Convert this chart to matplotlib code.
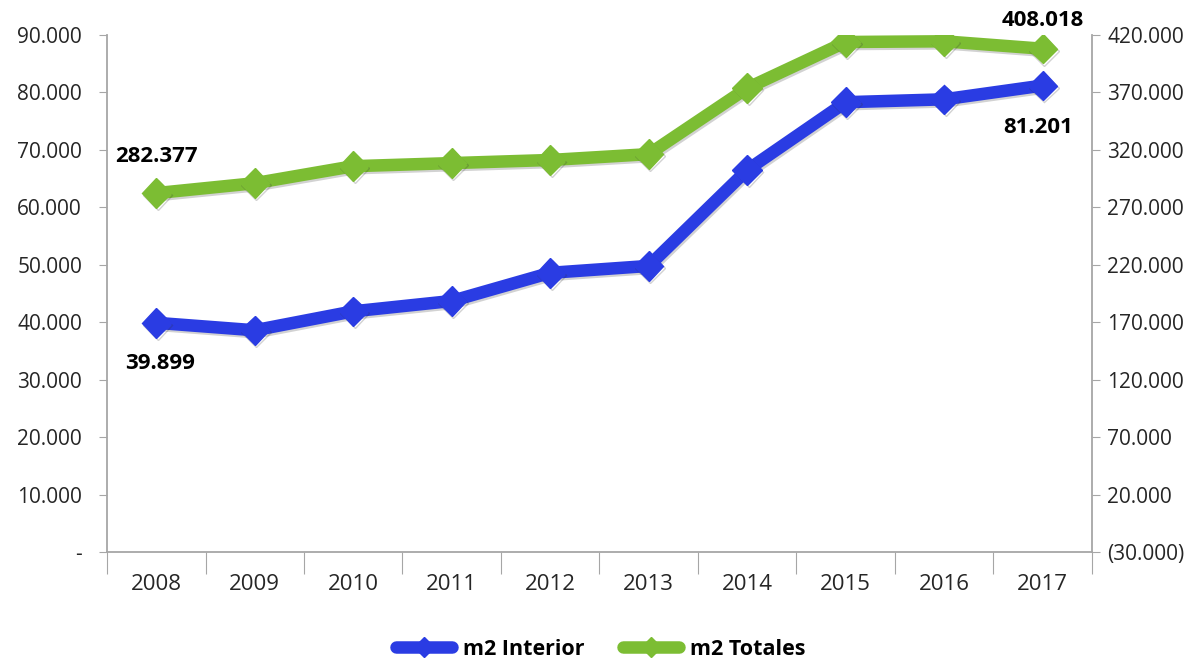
import matplotlib.pyplot as plt
import matplotlib.patheffects as pe
from matplotlib.lines import Line2D
from matplotlib.ticker import FixedLocator, FuncFormatter

years = ['2008', '2009', '2010', '2011', '2012', '2013', '2014', '2015', '2016', '2017']
m2_interior = [39899, 38600, 41900, 43700, 48600, 49800, 66500, 78300, 78800, 81201]
m2_totales = [282377, 291000, 305800, 308500, 311200, 316300, 373800, 413900, 414500, 408018]

left_ticks = list(range(0, 90001, 10000))
right_ticks = list(range(-30000, 420001, 50000))

blue = '#2A3CE3'
green = '#7CBD33'
tick_color = '#262626'
spine_color = '#A6A6A6'

plt.rcParams['font.family'] = ['Open Sans', 'DejaVu Sans']


def fmt_left(v, pos):
    if v == 0:
        return '-'
    return '{:,.0f}'.format(v).replace(',', '.')


def fmt_right(v, pos):
    s = '{:,.0f}'.format(abs(v)).replace(',', '.')
    return '(' + s + ')' if v < 0 else s


fig = plt.figure(figsize=(12.01, 6.6), dpi=100)
ax = fig.add_axes([0.0891, 0.1636, 0.8201, 0.7834])
ax2 = ax.twinx()

x = list(range(len(years)))
shadow = [pe.SimpleLineShadow(offset=(1, -1.5), alpha=0.22, shadow_color='#333333'), pe.Normal()]

ax.plot(x, m2_interior, color=blue, lw=9, marker='D', ms=15, path_effects=shadow,
        solid_joinstyle='miter', zorder=3)
ax2.plot(x, m2_totales, color=green, lw=9, marker='D', ms=15, path_effects=shadow,
         solid_joinstyle='miter', zorder=3)

ax.set_xlim(-0.5, len(years) - 0.5)
ax.set_ylim(0, 90000)
ax2.set_ylim(-30000, 420000)
ax.yaxis.set_major_locator(FixedLocator(left_ticks))
ax2.yaxis.set_major_locator(FixedLocator(right_ticks))
ax.yaxis.set_major_formatter(FuncFormatter(fmt_left))
ax2.yaxis.set_major_formatter(FuncFormatter(fmt_right))

ax.set_xticks([i - 0.5 for i in range(len(years) + 1)])
ax.set_xticklabels([])
ax.set_xticks(x, minor=True)
ax.set_xticklabels(years, minor=True)
ax.tick_params(axis='x', which='major', length=16, direction='out', color=spine_color)
ax.tick_params(axis='x', which='minor', length=0, pad=16, labelsize=16, labelcolor=tick_color)
ax.tick_params(axis='y', length=6, color=spine_color, labelsize=15, labelcolor=tick_color, pad=12)
ax2.tick_params(axis='y', length=6, color=spine_color, labelsize=15, labelcolor=tick_color, pad=5)

for a in (ax, ax2):
    a.spines['top'].set_visible(False)
    for s in ('left', 'right', 'bottom'):
        a.spines[s].set_color(spine_color)
        a.spines[s].set_linewidth(1.3)
ax.spines['right'].set_visible(False)
ax2.spines['left'].set_visible(False)
ax2.spines['bottom'].set_visible(False)

lab = dict(fontsize=16, fontweight='bold', color='black', ha='center', va='center',
           textcoords='offset points')
ax.annotate('39.899', (0, m2_interior[0]), xytext=(3, -29), **lab)
ax.annotate('81.201', (9, m2_interior[-1]), xytext=(-3.5, -30), **lab)
ax2.annotate('282.377', (0, m2_totales[0]), xytext=(0, 26), **lab)
ax2.annotate('408.018', (9, m2_totales[-1]), xytext=(0, 20), **lab)

handles = [
    Line2D([], [], color=blue, lw=9, solid_capstyle='round', marker='D', ms=10, label='m2 Interior'),
    Line2D([], [], color=green, lw=9, solid_capstyle='round', marker='D', ms=10, label='m2 Totales'),
]
fig.legend(handles=handles, loc='center', bbox_to_anchor=(0.5, 0.016), ncol=2,
           frameon=False, prop={'weight': 'bold', 'size': 15.5},
           handlelength=2.6, handletextpad=0.5, columnspacing=1.8)

fig.savefig('out.png', dpi=100)
